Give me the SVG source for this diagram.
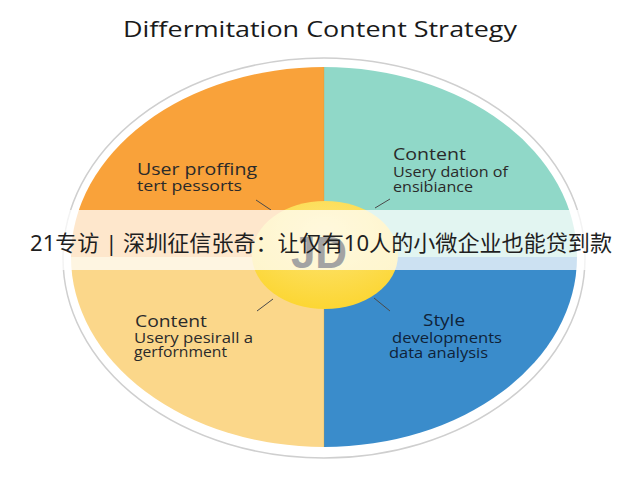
<svg xmlns="http://www.w3.org/2000/svg" width="640" height="480" viewBox="0 0 640 480">
<defs>
<style>
.lbl{font-family:"Open Sans","Noto Sans","DejaVu Sans",sans-serif;fill:#2a2a2a;}
.h{font-size:16px;}
.s{font-size:14px;}
.dk{fill:#0f2238;}
.conn{stroke:#4a4a4a;stroke-width:1;fill:none;}
</style>
<radialGradient id="cg" cx="50%" cy="30%" r="70%">
<stop offset="0" stop-color="#fde57a"/>
<stop offset="1" stop-color="#fcd633"/>
</radialGradient>
</defs>
<rect width="640" height="480" fill="#ffffff"/>
<text x="320" y="37" text-anchor="middle" textLength="394" lengthAdjust="spacingAndGlyphs" style="font-family:'Open Sans','Noto Sans',sans-serif;font-size:22px;fill:#1a1a1a;">Differmitation Content Strategy</text>
<ellipse cx="324" cy="258" rx="261" ry="200" fill="none" stroke="#cfcfcf" stroke-width="1.5"/>
<g id="quadrant-tl">
<path d="M324,257 L71,257 A253,190 0 0 1 324,67 Z" fill="#f9a23a"/>
<text class="lbl h" x="137" y="175" textLength="120" lengthAdjust="spacingAndGlyphs">User proffing</text>
<text class="lbl s" x="137" y="191" textLength="105" lengthAdjust="spacingAndGlyphs">tert pessorts</text>
</g>
<g id="quadrant-tr">
<path d="M324,257 L324,67 A253,190 0 0 1 577,257 Z" fill="#90d8c8"/>
<text class="lbl h" x="393" y="160" textLength="73" lengthAdjust="spacingAndGlyphs">Content</text>
<text class="lbl s" x="393" y="177" textLength="115" lengthAdjust="spacingAndGlyphs">Usery dation of</text>
<text class="lbl s" x="393" y="192" textLength="80" lengthAdjust="spacingAndGlyphs">ensibiance</text>
</g>
<g id="quadrant-br">
<path d="M324,257 L577,257 A253,190 0 0 1 324,447 Z" fill="#3a8ccb"/>
<text class="lbl h dk" x="423" y="326" textLength="42" lengthAdjust="spacingAndGlyphs">Style</text>
<text class="lbl s dk" x="392" y="343" textLength="110" lengthAdjust="spacingAndGlyphs">developments</text>
<text class="lbl s dk" x="389" y="358" textLength="99" lengthAdjust="spacingAndGlyphs">data analysis</text>
</g>
<g id="quadrant-bl">
<path d="M324,257 L324,447 A253,190 0 0 1 71,257 Z" fill="#fbd78a"/>
<text class="lbl h" x="135" y="327" textLength="72" lengthAdjust="spacingAndGlyphs">Content</text>
<text class="lbl s" x="134" y="343" textLength="119" lengthAdjust="spacingAndGlyphs">Usery pesirall a</text>
<text class="lbl s" x="134" y="357" textLength="93" lengthAdjust="spacingAndGlyphs">gerfornment</text>
</g>
<line x1="324" y1="67" x2="324" y2="447" stroke="#c9a040" stroke-width="0.6" opacity="0.5"/>
<g id="connectors">
<line class="conn" x1="256" y1="200" x2="271" y2="210"/>
<line class="conn" x1="375" y1="208" x2="390" y2="199"/>
<line class="conn" x1="257" y1="311" x2="273" y2="299"/>
<line class="conn" x1="374" y1="298" x2="390" y2="311"/>
</g>
<g id="center">
<ellipse cx="325" cy="255" rx="73" ry="54" fill="url(#cg)"/>
</g>
<rect x="0" y="210" width="640" height="60" fill="#ffffff" opacity="0.74"/>
<text x="319" y="268" text-anchor="middle" style="font-family:'Liberation Sans','DejaVu Sans',sans-serif;font-size:44px;font-weight:bold;fill:#a3a3a3;">JD</text>
<text x="321" y="251" text-anchor="middle" textLength="582" lengthAdjust="spacingAndGlyphs" style="font-family:'Noto Sans','Noto Sans CJK SC',sans-serif;font-size:22px;fill:#1f1f1f;">21专访 | 深圳征信张奇：让仅有10人的小微企业也能贷到款</text>
</svg>
